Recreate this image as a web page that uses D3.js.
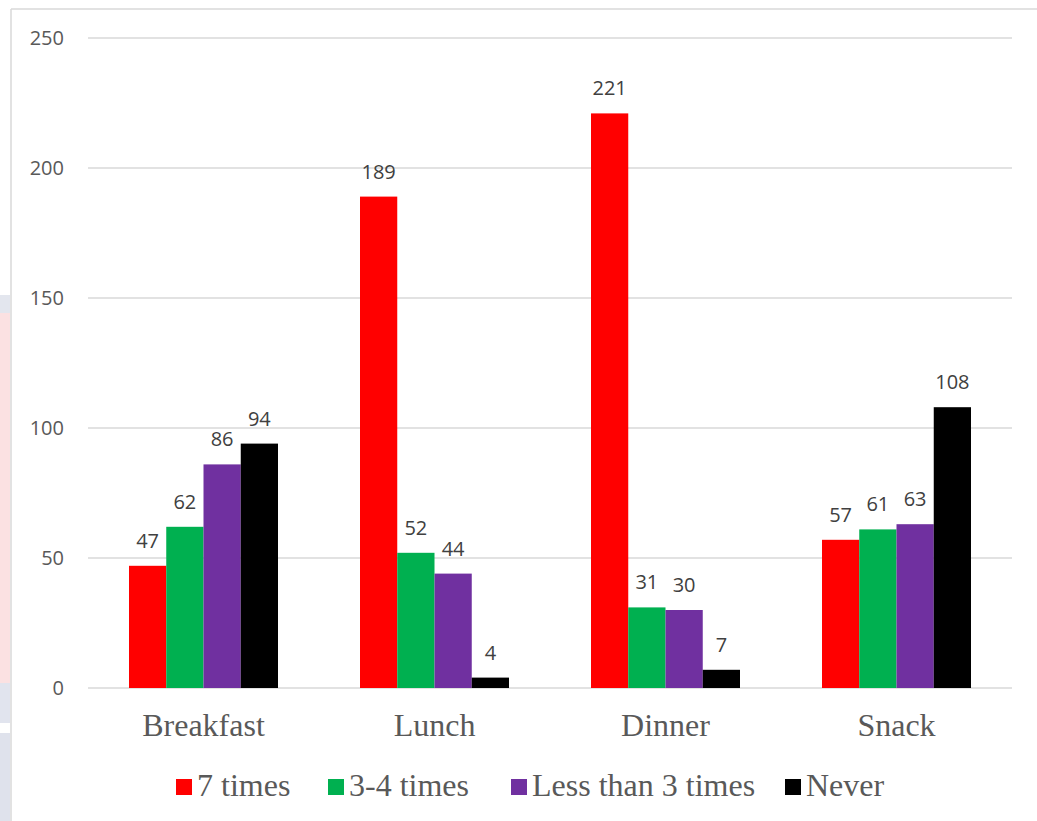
<!DOCTYPE html>
<html>
<head>
<meta charset="utf-8">
<script src="https://cdn.jsdelivr.net/npm/d3@7/dist/d3.min.js"></script>
<style>
  html, body { margin: 0; padding: 0; background: #ffffff; }
  svg { display: block; }
</style>
</head>
<body>
<svg id="chart" width="1037" height="821"></svg>
<script>
const categories = ["Breakfast", "Lunch", "Dinner", "Snack"];
const seriesNames = ["7 times", "3-4 times", "Less than 3 times", "Never"];
const seriesColors = ["#ff0000", "#00b050", "#7030a0", "#000000"];
const values7 = [47, 189, 221, 57];
const values34 = [62, 52, 31, 61];
const valuesLess3 = [86, 44, 30, 63];
const valuesNever = [94, 4, 7, 108];
const yTicks = [0, 50, 100, 150, 200, 250];

const seriesValues = [values7, values34, valuesLess3, valuesNever];

const svg = d3.select("#chart");

// decorative background strip outside chart border (left edge)
const deco = [
  {y: 295, h: 18, c: "#e3e6ee"},
  {y: 313, h: 370, c: "#fbe1e2"},
  {y: 683, h: 40, c: "#e1e4ee"},
  {y: 733, h: 88, c: "#dfe2ec"}
];
svg.selectAll("rect.deco").data(deco).join("rect")
  .attr("class", "deco")
  .attr("x", 0).attr("width", 10)
  .attr("y", d => d.y).attr("height", d => d.h)
  .attr("fill", d => d.c);

// chart border
svg.append("line").attr("x1", 11).attr("x2", 11).attr("y1", 9).attr("y2", 821)
  .attr("stroke", "#d9d9d9").attr("stroke-width", 1.5);
svg.append("line").attr("x1", 11).attr("x2", 1037).attr("y1", 9).attr("y2", 9)
  .attr("stroke", "#d9d9d9").attr("stroke-width", 1.5);

const x0 = d3.scaleBand().domain(categories).range([88, 1012]).paddingInner(0).paddingOuter(0);
const groupW = x0.bandwidth() * 0.645;
const groupOff = (x0.bandwidth() - groupW) / 2;
const x1 = d3.scaleBand().domain(seriesNames).range([groupOff, groupOff + groupW]).padding(0);
const y = d3.scaleLinear().domain([0, 250]).range([688, 38]);

// gridlines
svg.append("g").selectAll("line").data(yTicks).join("line")
  .attr("x1", 88).attr("x2", 1012)
  .attr("y1", d => y(d)).attr("y2", d => y(d))
  .attr("stroke", "#d9d9d9").attr("stroke-width", 1.4);

// y axis labels
const yAxis = d3.axisLeft(y).tickValues(yTicks).tickSize(0).tickPadding(0);
const gy = svg.append("g").attr("transform", "translate(64,0)").call(yAxis);
gy.select(".domain").remove();
gy.selectAll("text")
  .attr("font-family", "'Open Sans', sans-serif")
  .attr("font-size", 20)
  .attr("fill", "#595959");

// bars
const flat = [];
categories.forEach((c, ci) => {
  seriesNames.forEach((s, si) => {
    flat.push({cat: c, series: s, si: si, value: seriesValues[si][ci]});
  });
});

svg.append("g").selectAll("rect").data(flat).join("rect")
  .attr("x", d => x0(d.cat) + x1(d.series))
  .attr("width", x1.bandwidth())
  .attr("y", d => y(d.value))
  .attr("height", d => y(0) - y(d.value))
  .attr("fill", d => seriesColors[d.si]);

// data labels
svg.append("g").selectAll("text").data(flat).join("text")
  .attr("x", d => x0(d.cat) + x1(d.series) + x1.bandwidth() / 2)
  .attr("y", d => y(d.value) - 18)
  .attr("text-anchor", "middle")
  .attr("font-family", "'Open Sans', sans-serif")
  .attr("font-size", 20)
  .attr("fill", "#404040")
  .text(d => d.value);

// x axis labels
const xAxis = d3.axisBottom(x0).tickSize(0).tickPadding(0);
const gx = svg.append("g").attr("transform", "translate(0,736)").call(xAxis);
gx.select(".domain").remove();
gx.selectAll("text")
  .attr("dy", 0)
  .attr("font-family", "'Liberation Serif', 'Times New Roman', serif")
  .attr("font-size", 32)
  .attr("fill", "#595959");

// legend
const legendX = [176, 328, 511, 785];
const lg = svg.append("g").selectAll("g").data(seriesNames).join("g")
  .attr("transform", (d, i) => `translate(${legendX[i]},0)`);
lg.append("rect").attr("x", 0).attr("y", 779).attr("width", 16).attr("height", 16)
  .attr("fill", (d, i) => seriesColors[i]);
lg.append("text").attr("x", 21).attr("y", 796)
  .attr("font-family", "'Liberation Serif', 'Times New Roman', serif")
  .attr("font-size", 32)
  .attr("fill", "#595959")
  .text(d => d);
</script>
</body>
</html>
